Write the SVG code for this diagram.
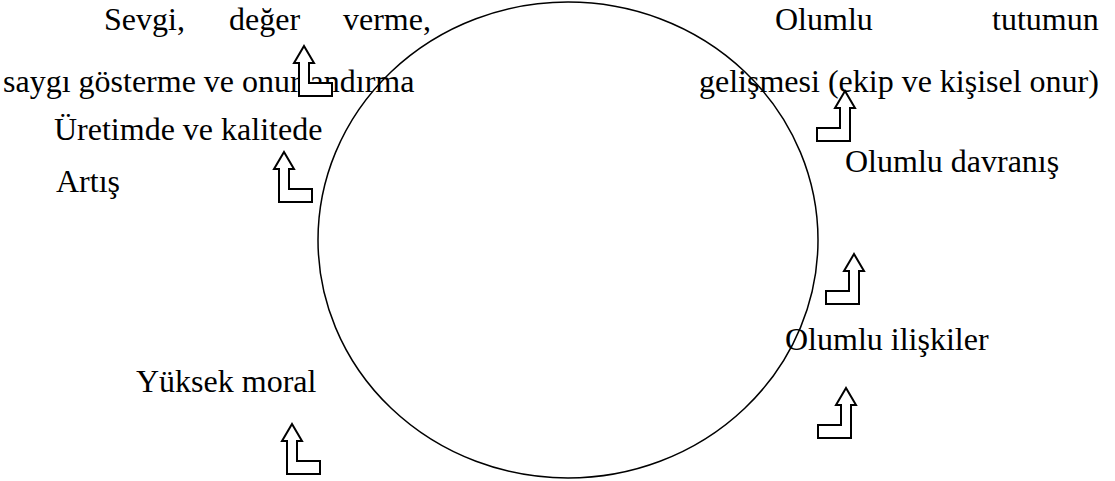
<svg xmlns="http://www.w3.org/2000/svg" width="1115" height="481" viewBox="0 0 1115 481">
<style>
text{font-family:"Liberation Serif","Times New Roman",serif;font-size:32px;fill:#000}
.arr{fill:#fff;stroke:#000;stroke-width:2;stroke-linejoin:miter}
</style>
<defs>
<path id="bentL" d="M0,0 L10,17 L5,17 L5,37 L28,37 L28,50 L-5,50 L-5,17 L-10,17 Z"/>
</defs>
<rect width="1115" height="481" fill="#fff"/>
<g id="circle"><ellipse cx="568" cy="240" rx="250" ry="238" fill="none" stroke="#000" stroke-width="1.5"/></g>
<g id="node-sevgi">
<text x="104" y="30">Sevgi,</text><text x="229" y="30">değer</text><text x="343" y="30">verme,</text>
<text x="3" y="92">saygı gösterme ve onurlandırma</text>
</g>
<g id="node-uretim">
<text x="54" y="140">Üretimde ve kalitede</text>
<text x="56" y="192">Artış</text>
</g>
<g id="node-moral"><text x="136" y="392">Yüksek moral</text></g>
<g id="node-tutum">
<text x="775" y="30">Olumlu</text><text x="992" y="30">tutumun</text>
<text x="699" y="92">gelişmesi (ekip ve kişisel onur)</text>
</g>
<g id="node-davranis"><text x="845" y="172">Olumlu davranış</text></g>
<g id="node-iliski"><text x="785" y="350">Olumlu ilişkiler</text></g>
<g id="connectors">
<use href="#bentL" class="arr" transform="translate(304,46)"/>
<use href="#bentL" class="arr" transform="translate(284,152)"/>
<use href="#bentL" class="arr" transform="translate(292,424)"/>
<use href="#bentL" class="arr" transform="translate(845,91) scale(-1,1)"/>
<use href="#bentL" class="arr" transform="translate(854,254) scale(-1,1)"/>
<use href="#bentL" class="arr" transform="translate(846,388) scale(-1,1)"/>
</g>
</svg>
